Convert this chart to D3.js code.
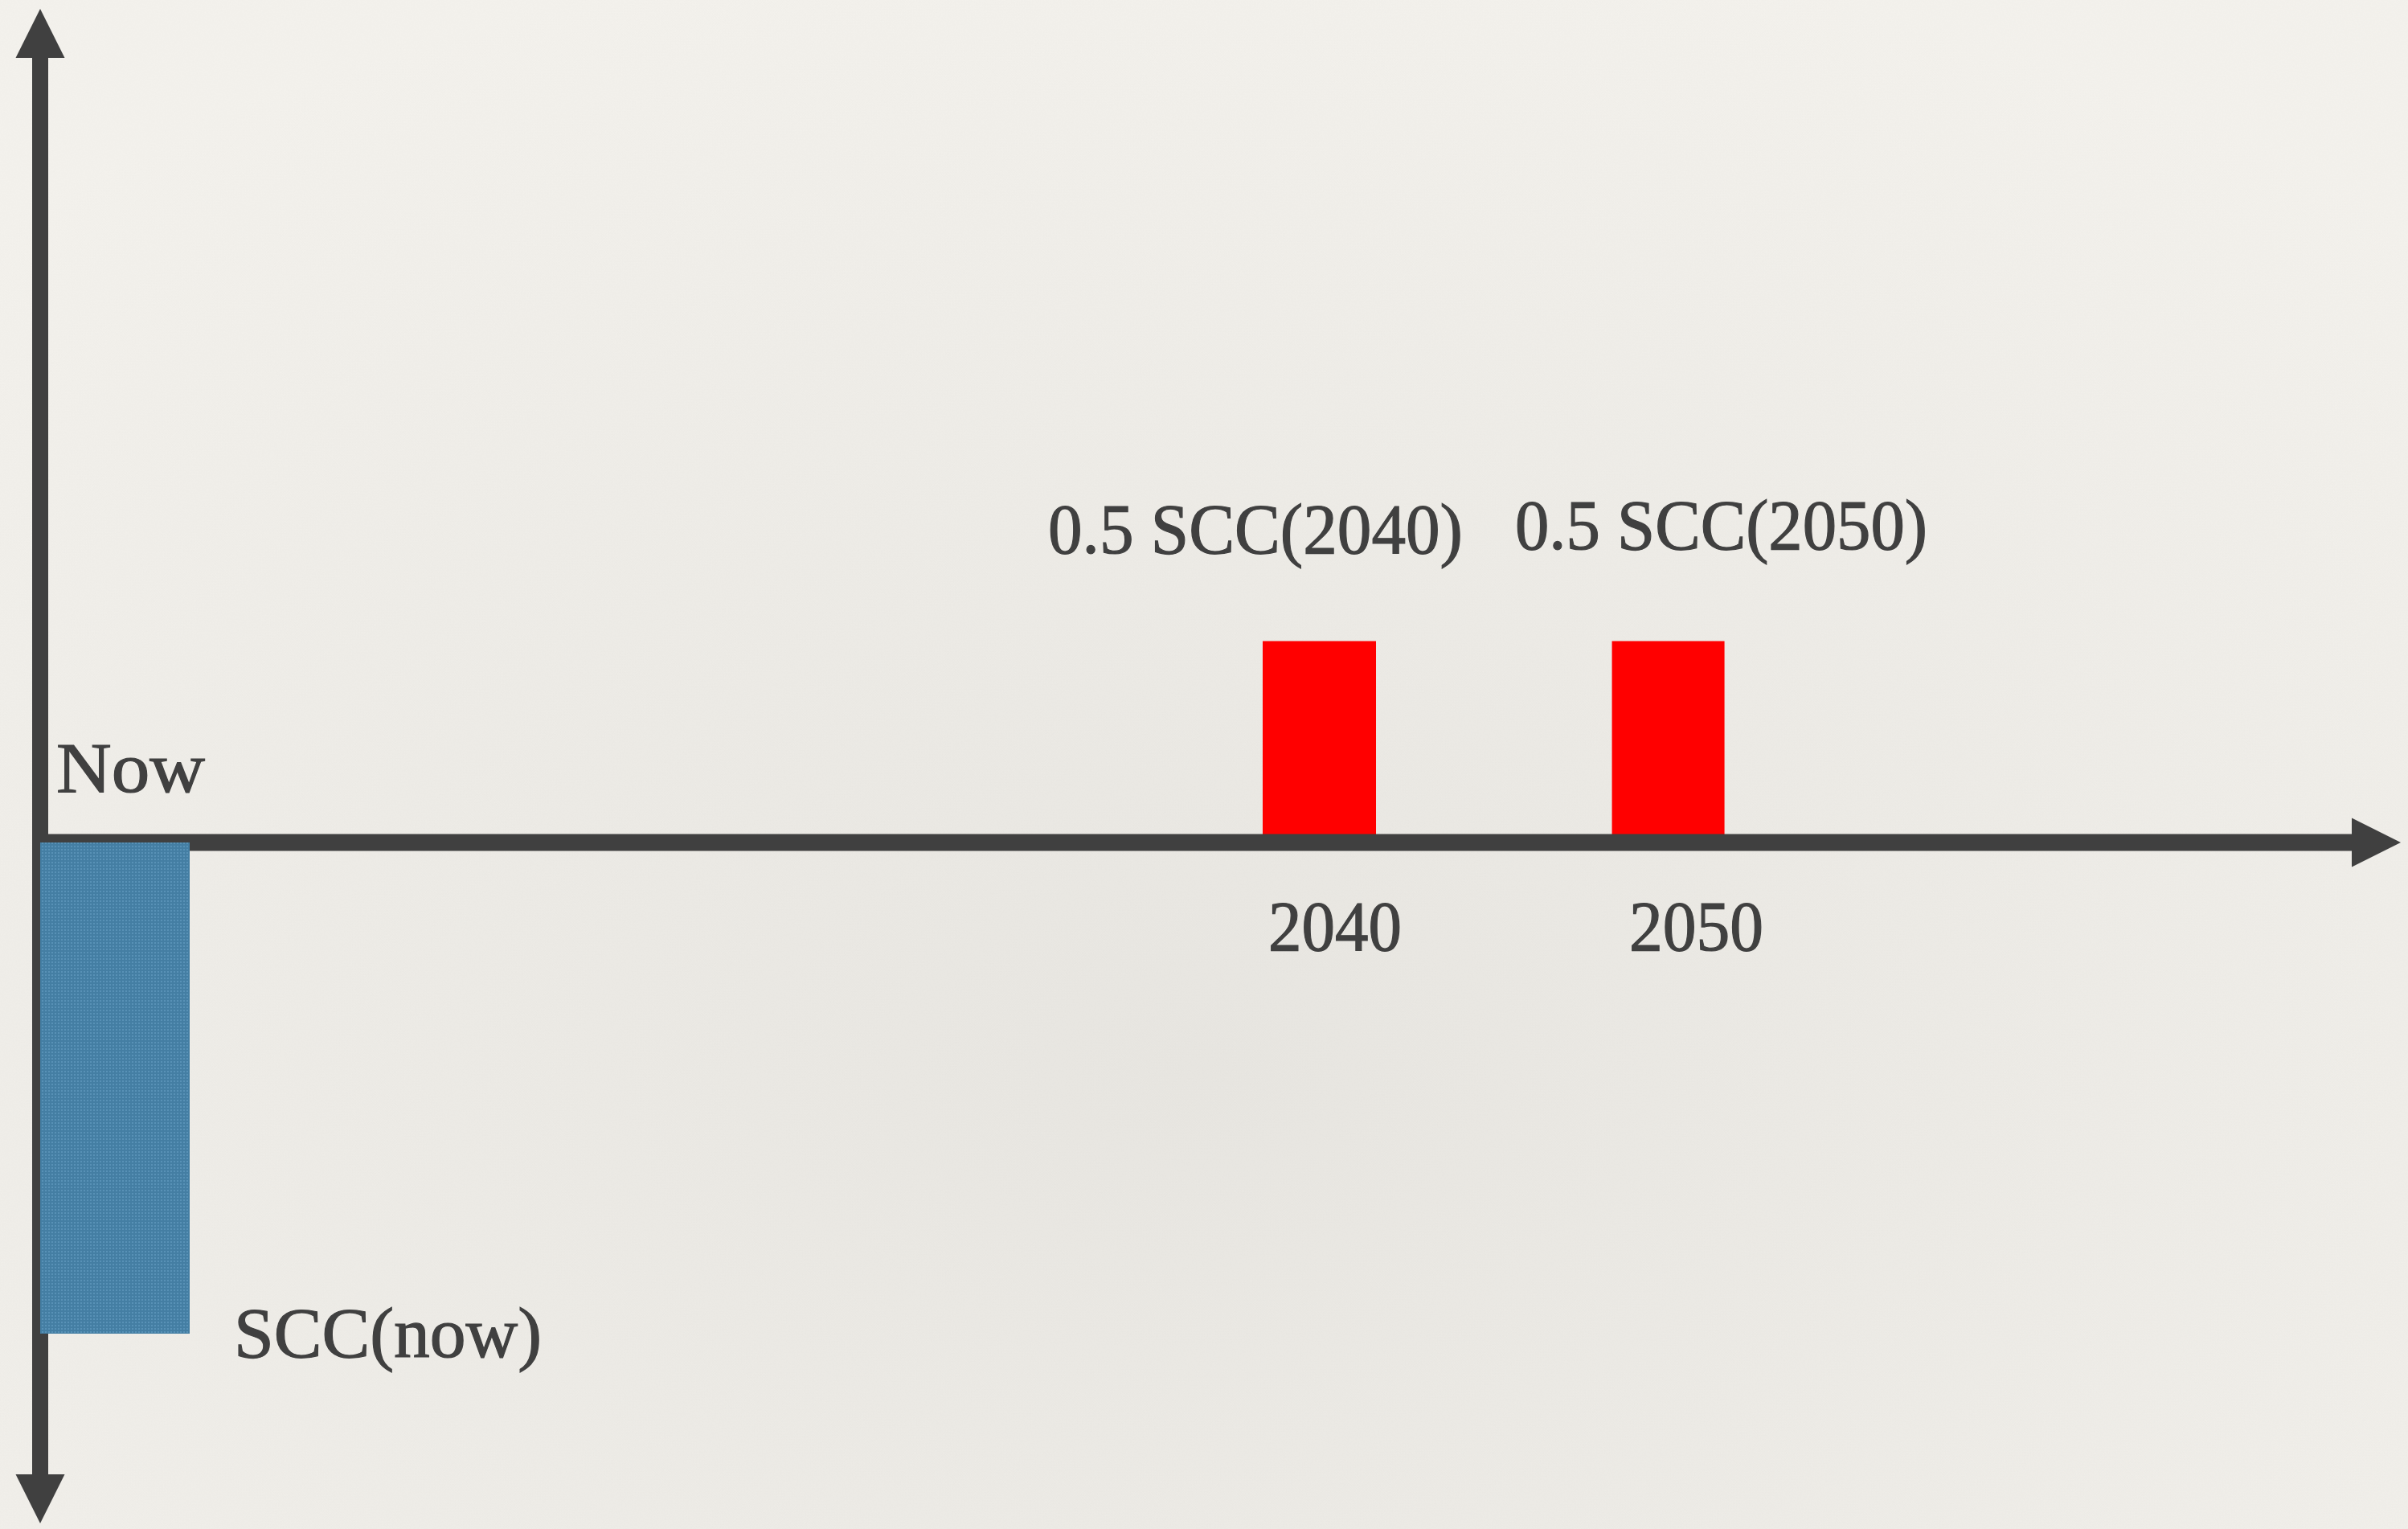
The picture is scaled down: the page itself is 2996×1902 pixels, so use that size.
<!DOCTYPE html>
<html><head><meta charset="utf-8">
<script src="https://cdn.jsdelivr.net/npm/d3@7"></script>
<style>html,body{margin:0;padding:0;background:#efede8;overflow:hidden}</style>
</head><body>
<script>
// ---- data ----
const categories = ["Now", "2040", "2050"];
const years = [2005, 2040, 2050];
const values = [-1, 0.41, 0.41];
const barLabels = ["SCC(now)", "0.5 SCC(2040)", "0.5 SCC(2050)"];
const tickLabels = ["Now", "2040", "2050"];
const barColors = ["#4b86ab", "#ff0000", "#ff0000"];

// ---- layout ----
const W = 2996, H = 1902;
const ink = "#404040";
const font = "'Liberation Serif', 'Times New Roman', serif";
const x = d3.scaleLinear().domain([2005, 2040]).range([50, 1571]);
const y = d3.scaleLinear().domain([-1, 0]).range([1659, 1048]);
const barW = [186, 141, 140];
const axisW = 20, headLen = 61, headHalf = 30.5;
const yTop = 11, yBot = 1895, xRight = 2987;

const svg = d3.select("body").append("svg").attr("width", W).attr("height", H);
const defs = svg.append("defs");

// background
const rg = defs.append("radialGradient").attr("id", "bg").attr("cx", "50%").attr("cy", "70%").attr("r", "75%");
rg.append("stop").attr("offset", "0%").attr("stop-color", "#e8e6e1");
rg.append("stop").attr("offset", "100%").attr("stop-color", "#f4f2ed");
const f = defs.append("filter").attr("id", "noise").attr("x", 0).attr("y", 0).attr("width", "100%").attr("height", "100%");
f.append("feTurbulence").attr("type", "fractalNoise").attr("baseFrequency", 0.6).attr("numOctaves", 2).attr("seed", 3);
f.append("feColorMatrix").attr("type", "matrix").attr("values", "0 0 0 0 0.5  0 0 0 0 0.5  0 0 0 0 0.48  0 0 0 0.06 0");
svg.append("rect").attr("width", W).attr("height", H).attr("fill", "url(#bg)");
svg.append("rect").attr("width", W).attr("height", H).attr("filter", "url(#noise)");

// blue bar texture
const pat = defs.append("pattern").attr("id", "weave").attr("width", 4).attr("height", 4).attr("patternUnits", "userSpaceOnUse");
pat.append("rect").attr("width", 4).attr("height", 4).attr("fill", "#447ea3");
pat.append("rect").attr("width", 2).attr("height", 2).attr("fill", "#5891b6");

const data = categories.map((c, i) => ({c, year: years[i], v: values[i], label: barLabels[i], tick: tickLabels[i], color: barColors[i], w: barW[i]}));

// positive bars (under axes)
svg.append("g").selectAll("rect").data(data.filter(d => d.v > 0)).join("rect")
  .attr("x", d => x(d.year)).attr("width", d => d.w)
  .attr("y", d => y(d.v)).attr("height", d => y(0) - y(d.v))
  .attr("fill", d => d.color);

// axes
const x0 = x(years[0]), y0 = y(0);
const ax = svg.append("g").attr("fill", ink);
ax.append("rect").attr("x", x0 - axisW / 2).attr("y", yTop + headLen).attr("width", axisW).attr("height", (yBot - headLen) - (yTop + headLen));
ax.append("rect").attr("x", x0 - axisW / 2).attr("y", y0 - 10.5).attr("width", (xRight - headLen) - (x0 - axisW / 2)).attr("height", 21);
ax.append("path").attr("d", `M${x0},${yTop}L${x0 + headHalf},${yTop + headLen}L${x0 - headHalf},${yTop + headLen}Z`);
ax.append("path").attr("d", `M${x0},${yBot}L${x0 + headHalf},${yBot - headLen}L${x0 - headHalf},${yBot - headLen}Z`);
ax.append("path").attr("d", `M${xRight},${y0}L${xRight - headLen},${y0 - headHalf}L${xRight - headLen},${y0 + headHalf}Z`);

// negative bar (over axes)
svg.append("g").selectAll("rect").data(data.filter(d => d.v < 0)).join("rect")
  .attr("x", d => x(d.year)).attr("width", d => d.w)
  .attr("y", y0).attr("height", d => y(d.v) - y0)
  .attr("fill", "url(#weave)");

// text
const txt = svg.append("g").attr("fill", ink).attr("stroke", ink).attr("stroke-width", 1.2)
  .style("font-family", font).style("font-size", "88px");
const tickPos = [[70, 985, 185], [1578, 1182, 166], [2027, 1182, 167]];
const labelPos = [[291, 1688, 383], [1304, 688, 516], [1885, 683, 513]];
data.forEach((d, i) => {
  txt.append("text").attr("x", tickPos[i][0]).attr("y", tickPos[i][1])
    .attr("textLength", tickPos[i][2]).attr("lengthAdjust", "spacingAndGlyphs").text(d.tick);
  txt.append("text").attr("x", labelPos[i][0]).attr("y", labelPos[i][1])
    .attr("textLength", labelPos[i][2]).attr("lengthAdjust", "spacingAndGlyphs").text(d.label);
});
</script>
</body></html>
